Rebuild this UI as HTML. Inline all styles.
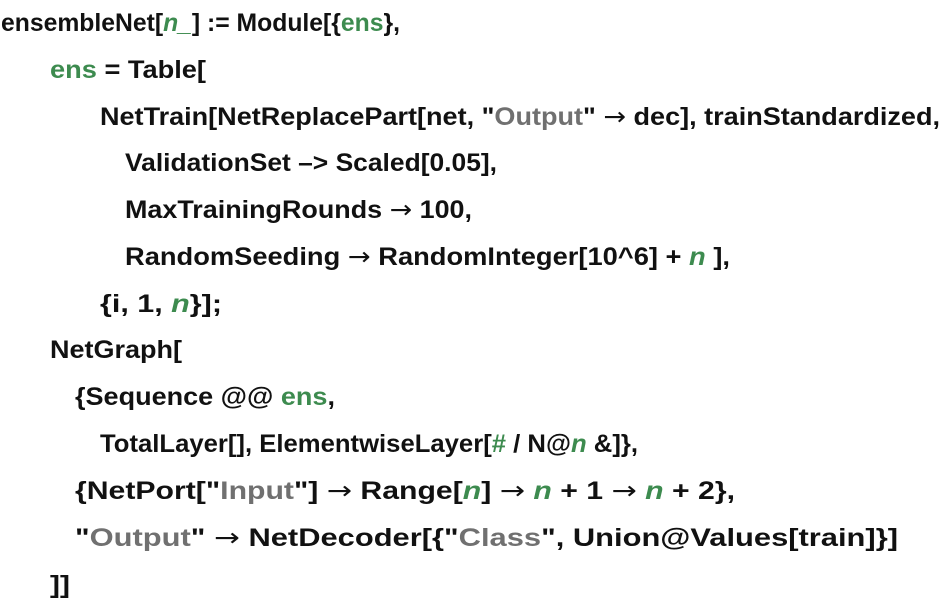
<!DOCTYPE html>
<html><head><meta charset="utf-8"><style>
html,body{margin:0;padding:0;background:#fff;}
svg{display:block}
text{font-family:"Liberation Sans",sans-serif;font-size:25px;font-weight:bold;fill:#111;}
.g{fill:#3d8b4f}.s{fill:#707070}.i{font-style:italic}
.a{font-family:"DejaVu Sans",sans-serif;font-weight:normal}
</style></head><body>
<svg width="948" height="602" xmlns="http://www.w3.org/2000/svg">
<text x="1" y="31" textLength="399" lengthAdjust="spacingAndGlyphs">ensembleNet[<tspan class="g i">n_</tspan>] := Module[{<tspan class="g">ens</tspan>},</text>
<text x="50" y="78" textLength="156" lengthAdjust="spacingAndGlyphs"><tspan class="g">ens</tspan> = Table[</text>
<text x="100" y="125" textLength="840" lengthAdjust="spacingAndGlyphs">NetTrain[NetReplacePart[net, "<tspan class="s">Output</tspan>" <tspan class="a">→</tspan> dec], trainStandardized,</text>
<text x="125" y="171" textLength="372" lengthAdjust="spacingAndGlyphs">ValidationSet –&gt; Scaled[0.05],</text>
<text x="125" y="218" textLength="347" lengthAdjust="spacingAndGlyphs">MaxTrainingRounds <tspan class="a">→</tspan> 100,</text>
<text x="125" y="265" textLength="605" lengthAdjust="spacingAndGlyphs">RandomSeeding <tspan class="a">→</tspan> RandomInteger[10^6] + <tspan class="g i">n</tspan> ],</text>
<text x="100" y="312" textLength="122" lengthAdjust="spacingAndGlyphs">{i, 1, <tspan class="g i">n</tspan>}];</text>
<text x="50" y="358" textLength="132" lengthAdjust="spacingAndGlyphs">NetGraph[</text>
<text x="75" y="405" textLength="260" lengthAdjust="spacingAndGlyphs">{Sequence @@ <tspan class="g">ens</tspan>,</text>
<text x="100" y="452" textLength="538" lengthAdjust="spacingAndGlyphs">TotalLayer[], ElementwiseLayer[<tspan class="g">#</tspan> / N@<tspan class="g i">n</tspan>  &amp;]},</text>
<text x="75" y="499" textLength="660" lengthAdjust="spacingAndGlyphs">{NetPort["<tspan class="s">Input</tspan>"] <tspan class="a">→</tspan> Range[<tspan class="g i">n</tspan>] <tspan class="a">→</tspan> <tspan class="g i">n</tspan> + 1 <tspan class="a">→</tspan>  <tspan class="g i">n</tspan> + 2},</text>
<text x="75" y="546" textLength="823" lengthAdjust="spacingAndGlyphs">"<tspan class="s">Output</tspan>" <tspan class="a">→</tspan> NetDecoder[{"<tspan class="s">Class</tspan>", Union@Values[train]}]</text>
<text x="50" y="593" textLength="20" lengthAdjust="spacingAndGlyphs">]]</text>
</svg>
</body></html>
